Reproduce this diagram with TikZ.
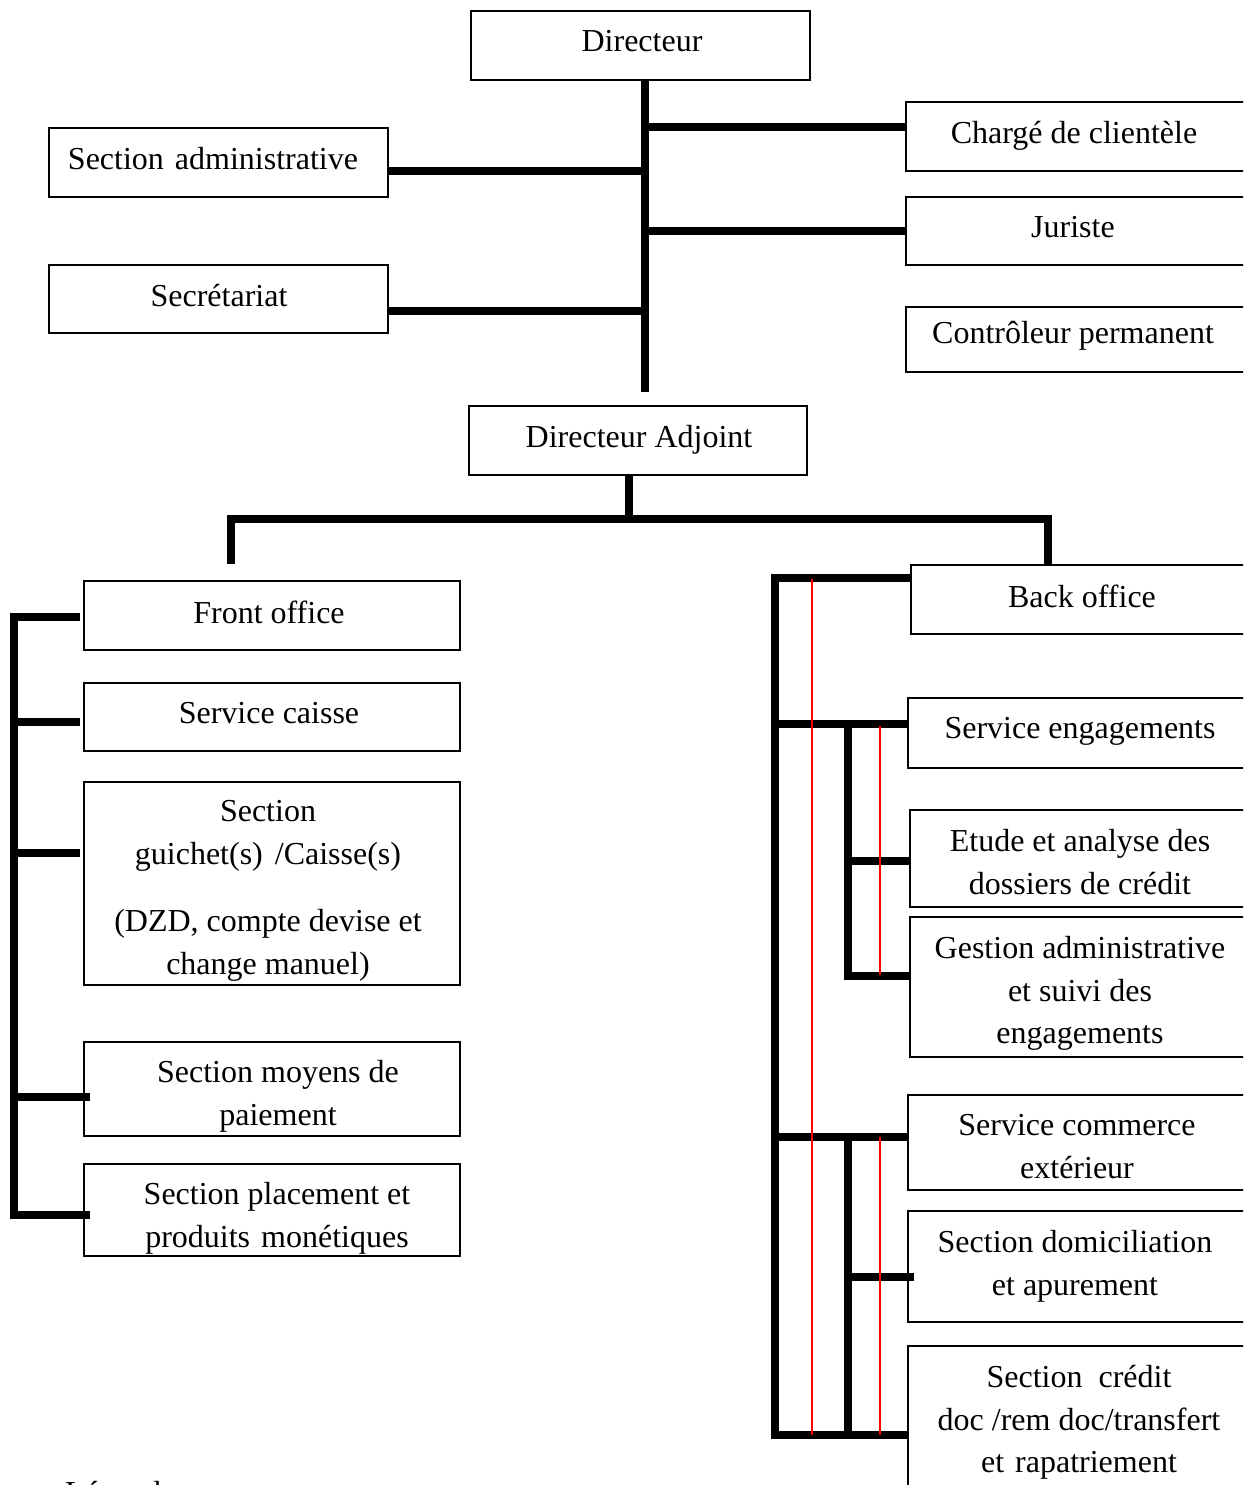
\documentclass[tikz,border=0pt]{standalone}
\usepackage{fontspec}
\setmainfont{Liberation Serif}
\usetikzlibrary{calc}

\tikzset{
  box/.style={draw=black, line width=2pt, inner sep=0pt, outer sep=0pt, anchor=north west, fill=white},
  lbl/.style={inner sep=0pt, anchor=north, align=center, font=\fontsize{32}{42.5}\selectfont},
  conn/.style={draw=black, line width=8pt, line cap=butt, line join=miter},
  redline/.style={draw=red, line width=2pt}
}

% box: name, left, top, right, bottom
\newcommand{\orgbox}[5]{%
  \node[box, minimum width={#4-#2}, minimum height={#5-#3}] (#1) at (#2,#3) {};}

\begin{document}
\begin{tikzpicture}[x=1pt, y=-1pt]
\useasboundingbox (0,0) rectangle (1243,1485);
\clip (0,0) rectangle (1243,1485);

% ---- boxes ----
\orgbox{dir}{471}{11}{810}{80}
\orgbox{sadm}{49}{128}{388}{197}
\orgbox{secr}{49}{265}{388}{333}
\orgbox{charge}{906}{102}{1252}{171}
\orgbox{jur}{906}{197}{1252}{265}
\orgbox{ctrl}{906}{307}{1252}{372}
\orgbox{dadj}{469}{406}{807}{475}
\orgbox{front}{84}{581}{460}{650}
\orgbox{caisse}{84}{683}{460}{751}
\orgbox{guichet}{84}{782}{460}{985}
\orgbox{moyens}{84}{1042}{460}{1136}
\orgbox{placement}{84}{1164}{460}{1256}
\orgbox{back}{911}{565}{1252}{634}
\orgbox{engag}{908}{698}{1252}{768}
\orgbox{etude}{910}{810}{1252}{907}
\orgbox{gestion}{910}{917}{1252}{1057}
\orgbox{commerce}{908}{1095}{1252}{1190}
\orgbox{domic}{908}{1211}{1252}{1322}
\orgbox{credit}{908}{1346}{1252}{1500}

% ---- labels ----
\node[lbl] (t-dir) at (642,30.5) {Directeur};
\node[lbl] (t-sadm) at (213,147.5) {Section\hspace{3pt} administrative};
\node[lbl] (t-secr) at (219,284.5) {Secrétariat};
\node[lbl] (t-charge) at (1074,121.5) {Chargé de clientèle};
\node[lbl] (t-jur) at (1073,216.5) {Juriste};
\node[lbl] (t-ctrl) at (1073,321.5) {Contrôleur permanent};
\node[lbl] (t-dadj) at (639,425.5) {Directeur Adjoint};
\node[lbl] (t-front) at (269,600.5) {Front office};
\node[lbl] (t-caisse) at (269,702.5) {Service caisse};
\node[lbl] (t-guichet) at (268,800.5) {Section\\guichet(s)\hspace{4pt} /Caisse(s)\\[25pt](DZD, compte devise et\\change manuel)};
\node[lbl] (t-moyens) at (278,1060.5) {Section moyens de\\paiement};
\node[lbl] (t-placement) at (277,1182.5) {Section placement et\\produits\hspace{3pt} monétiques};
\node[lbl] (t-back) at (1082,584.5) {Back office};
\node[lbl] (t-engag) at (1080,717.5) {Service engagements};
\node[lbl] (t-etude) at (1080,829.5) {Etude et analyse des\\dossiers de crédit};
\node[lbl] (t-gestion) at (1080,936.5) {Gestion administrative\\et suivi des\\engagements};
\node[lbl] (t-commerce) at (1077,1114.5) {Service commerce\\extérieur};
\node[lbl] (t-domic) at (1075,1230.5) {Section domiciliation\\et apurement};
\node[lbl] (t-credit) at (1079,1365.5) {Section\ \ crédit\\doc /rem doc/transfert\\et\hspace{3pt} rapatriement};
\node[lbl, anchor=base west] (t-leg) at (65,1503) {Légende};

% ---- upper hierarchy ----
\coordinate (trunk) at (645,392);
\coordinate (jc) at (645,127);
\coordinate (jj) at (645,231);
\coordinate (js) at (645,171);
\coordinate (jt) at (645,311);
\draw[conn] (dir.south -| trunk) -- (trunk);
\draw[conn] (jc) -- (jc -| charge.west);
\draw[conn] (jj) -- (jj -| jur.west);
\draw[conn] (js) -- (js -| sadm.east);
\draw[conn] (jt) -- (jt -| secr.east);

% ---- deputy split ----
\coordinate (ha) at (629,519);
\coordinate (dl) at (231,564);
\coordinate (dr) at (1048,564);
\draw[conn] (dadj.south -| ha) -- (ha);
\draw[conn] (dl) |- (ha) -| (dr);

% ---- front office bracket ----
\coordinate (fa) at (14,617);
\coordinate (fb) at (14,1215);
\coordinate (f2) at (14,722);
\coordinate (f3) at (14,853);
\coordinate (f4) at (14,1097);
\draw[conn] ($(fa -| front.west)+(-4,0)$) -- (fa) -- (fb) -- ($(fb -| placement.west)+(6,0)$);
\draw[conn] (f2) -- ($(f2 -| caisse.west)+(-4,0)$);
\draw[conn] (f3) -- ($(f3 -| guichet.west)+(-4,0)$);
\draw[conn] (f4) -- ($(f4 -| moyens.west)+(6,0)$);

% ---- back office bracket ----
\coordinate (ba) at (775,578);
\coordinate (bb) at (775,1435);
\coordinate (b2) at (775,724);
\coordinate (b3) at (775,1137);
\draw[conn] (back.west |- ba) -- (ba) -- (bb) -- (bb -| credit.west);
\draw[conn] (b2) -- (b2 -| engag.west);
\draw[conn] (b3) -- (b3 -| commerce.west);

\coordinate (ia) at (848,724);
\coordinate (ib) at (848,976);
\coordinate (ic) at (848,861);
\draw[conn] (ia) -- (ib) -- (ib -| gestion.west);
\draw[conn] (ic) -- (ic -| etude.west);

\coordinate (id) at (848,1137);
\coordinate (ie) at (848,1435);
\coordinate (if) at (848,1277);
\draw[conn] (id) -- (ie);
\draw[conn] (if) -- ($(if -| domic.west)+(6,0)$);

% ---- red guide lines ----
\coordinate (ra) at (812,579);
\coordinate (rb) at (812,1435);
\coordinate (rc) at (880,726);
\coordinate (rd) at (880,975);
\coordinate (re) at (880,1137);
\coordinate (rf) at (880,1435);
\draw[redline] (ra) -- (rb);
\draw[redline] (rc) -- (rd);
\draw[redline] (re) -- (rf);
\end{tikzpicture}
\end{document}
